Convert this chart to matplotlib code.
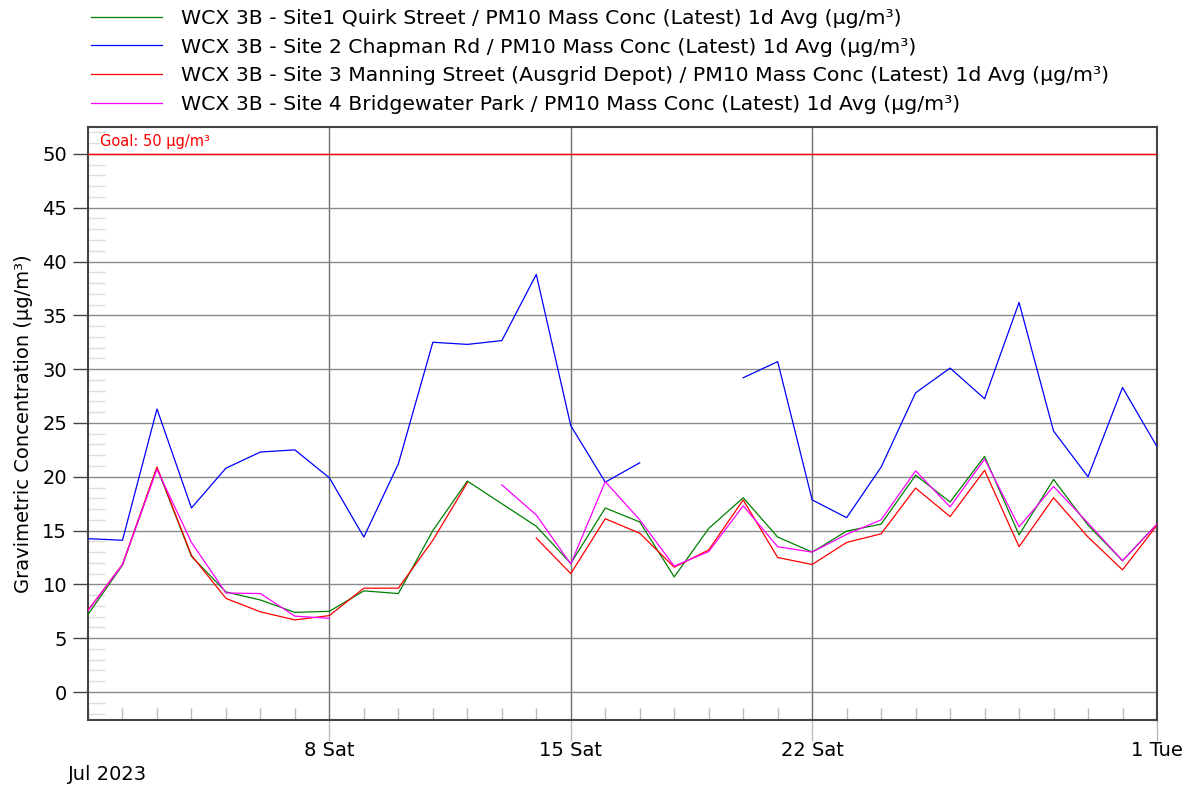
import numpy as np
import matplotlib
matplotlib.use("Agg")
import matplotlib.pyplot as plt
import matplotlib.dates as mdates
from matplotlib.ticker import MultipleLocator, FixedLocator
import datetime as dt

plt.rcParams['font.family'] = ['DejaVu Sans']

nan = np.nan
dates = [dt.datetime(2023, 7, 1) + dt.timedelta(days=i) for i in range(32)]

site1 = [7.2, 11.8, 20.85, 12.6, 9.3, 8.55, 7.4, 7.5, 9.4, 9.15, 15.0, 19.6, 17.5, 15.4, 11.95, 17.1,
         15.8, 10.7, 15.2, 18.05, 14.4, 13.0, 14.95, 15.6, 20.15, 17.65, 21.9, 14.6, 19.75, 15.5, 12.2, 15.6]
site2 = [14.25, 14.1, 26.3, 17.1, 20.8, 22.3, 22.5, 19.9, 14.4, 21.2, 32.5, 32.3, 32.65, 38.8, 24.75, 19.5,
         21.3, nan, nan, 29.2, 30.7, 17.85, 16.2, 20.9, 27.8, 30.1, 27.25, 36.2, 24.25, 20.0, 28.3, 22.8]
site3 = [7.6, 11.85, 20.9, 12.7, 8.7, 7.45, 6.7, 7.1, 9.65, 9.65, 14.1, 19.45, nan, 14.3, 11.0, 16.1,
         14.75, 11.6, 13.2, 17.85, 12.5, 11.85, 13.9, 14.7, 18.95, 16.3, 20.6, 13.5, 18.05, 14.4, 11.35, 15.5]
site4 = [7.55, 11.85, 20.7, 13.9, 9.2, 9.15, 7.05, 6.85, nan, nan, nan, nan, 19.25, 16.45, 11.9, 19.55,
         16.0, 11.7, 13.05, 17.3, 13.5, 13.0, 14.65, 16.0, 20.55, 17.2, 21.65, 15.35, 19.1, 15.7, 12.2, 15.6]

labels = [
    "WCX 3B - Site1 Quirk Street / PM10 Mass Conc (Latest) 1d Avg (µg/m³)",
    "WCX 3B - Site 2 Chapman Rd / PM10 Mass Conc (Latest) 1d Avg (µg/m³)",
    "WCX 3B - Site 3 Manning Street (Ausgrid Depot) / PM10 Mass Conc (Latest) 1d Avg (µg/m³)",
    "WCX 3B - Site 4 Bridgewater Park / PM10 Mass Conc (Latest) 1d Avg (µg/m³)",
]
colors = ['#008000', '#0000ff', '#ff0000', '#ff00ff']
goal = 50
major_dates = [dt.datetime(2023, 7, 8), dt.datetime(2023, 7, 15), dt.datetime(2023, 7, 22), dt.datetime(2023, 8, 1)]
major_labels = ["8 Sat", "15 Sat", "22 Sat", "1 Tue"]

W, H = 1196, 791
fig = plt.figure(figsize=(W / 100, H / 100), dpi=100)
ax = fig.add_axes([88 / W, 1 - 720 / H, (1157 - 88) / W, (720 - 127) / H])

lines = []
for ys, c, lab in zip([site1, site2, site3, site4], colors, labels):
    ln, = ax.plot(dates, ys, color=c, lw=0.9, label=lab, zorder=3)
    lines.append(ln)

ax.axhline(goal, color='#ff0000', lw=1.0, zorder=4)
ax.text(0.011, 0.988, "Goal: 50 µg/m³", transform=ax.transAxes, color='#ff0000',
        fontsize=10.5, ha='left', va='top')

ax.set_xlim(dt.datetime(2023, 7, 1), dt.datetime(2023, 8, 1))
ax.set_ylim(-2.6, 52.5)

ax.yaxis.set_major_locator(MultipleLocator(5))
ax.yaxis.set_minor_locator(MultipleLocator(1))
ax.xaxis.set_major_locator(FixedLocator(mdates.date2num(major_dates)))
ax.set_xticklabels(major_labels)
ax.xaxis.set_minor_locator(mdates.DayLocator())

ax.grid(axis='y', which='major', color='#8a8a8a', lw=1.0, zorder=1)
ax.grid(axis='x', which='major', color='#707070', lw=1.0, zorder=1)

ax.tick_params(axis='y', which='major', direction='out', length=11, width=1, color='#444444',
               labelsize=14, pad=4)
ax.tick_params(axis='y', which='minor', direction='in', length=12, width=1, color='#dddddd')
ax.tick_params(axis='x', which='major', direction='out', length=15, width=1, color='#bbbbbb',
               labelsize=14, pad=0)
ax.tick_params(axis='x', which='minor', direction='in', length=9, width=1, color='#bbbbbb')

for s in ax.spines.values():
    s.set_color('#444444')
    s.set_linewidth(1.5)

ax.set_ylabel("Gravimetric Concentration (µg/m³)", fontsize=14, labelpad=7)
fig.text(68 / W, 1 - 775 / H, "Jul 2023", fontsize=14, ha='left', va='center')

fig.legend(handles=lines, loc='upper left', bbox_to_anchor=(91 / W, 1 - 9 / H),
           frameon=False, fontsize=14.7, handlelength=3.5, handletextpad=0.9,
           labelspacing=0.47, borderpad=0, borderaxespad=0)

fig.savefig("out.png", dpi=100)
